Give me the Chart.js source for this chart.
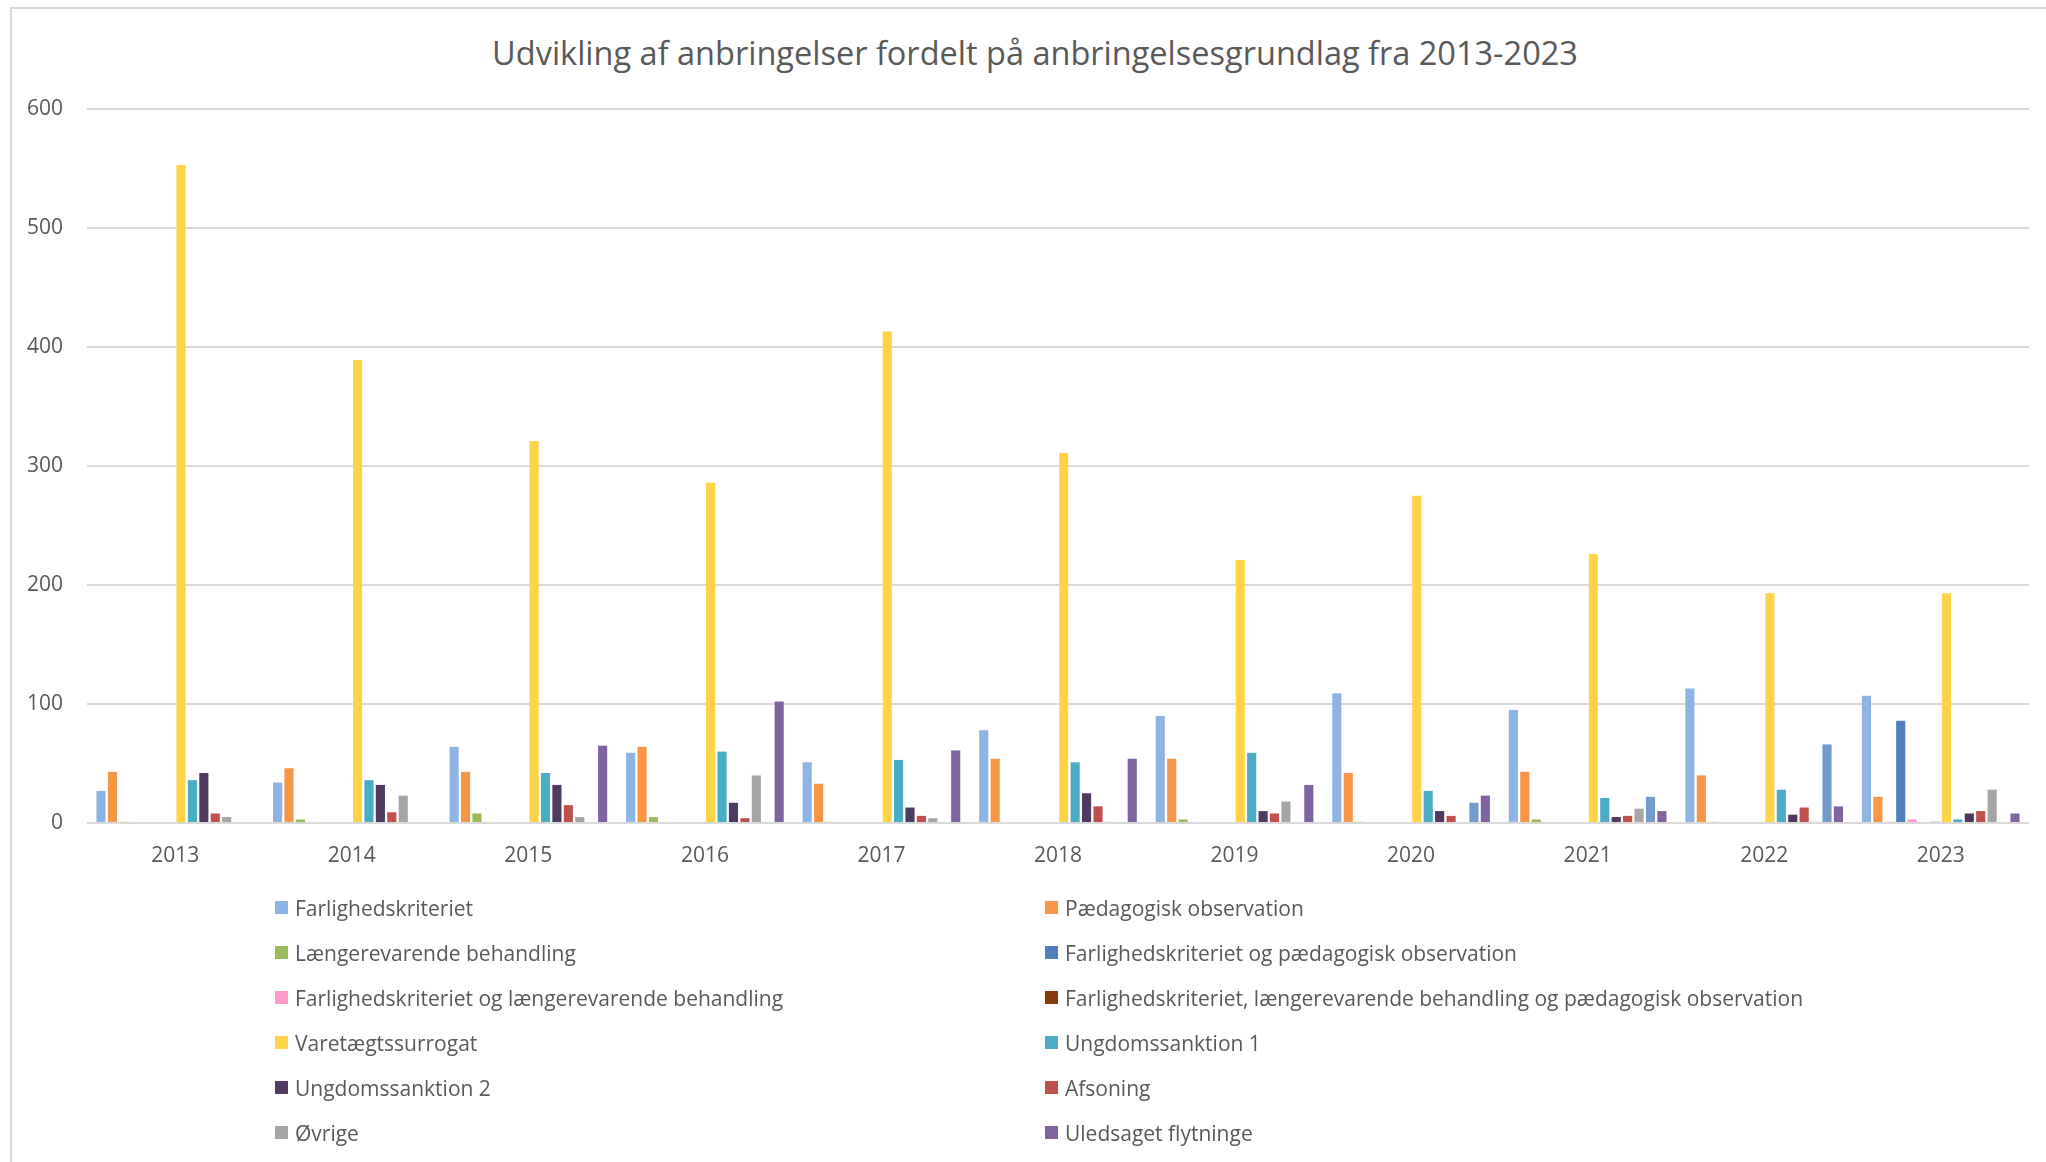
<!DOCTYPE html>
<html lang="da">
<head>
<meta charset="utf-8">
<title>Udvikling af anbringelser</title>
<script src="https://cdn.jsdelivr.net/npm/chart.js@4.4.1/dist/chart.umd.min.js"></script>
<style>
  html, body { margin:0; padding:0; background:#fff; }
  body { width:2046px; height:1162px; position:relative; overflow:hidden; font-family:'Open Sans', sans-serif; }
  #frame { position:absolute; left:10px; top:7px; right:0; bottom:0; border-left:2px solid #D9D9D9; border-top:2px solid #D9D9D9; }
  #title {
    position:absolute; left:35px; width:2000px; top:32px; line-height:42px;
    text-align:center; font-size:32.5px; color:#595959; white-space:nowrap;
  }
  #wrap { position:absolute; left:0; top:0; width:2046px; height:890px; }
  #legend {
    position:absolute; left:275px; top:885px;
    display:grid; grid-template-columns:770px 770px; grid-auto-rows:45px;
    font-size:21px; color:#595959;
  }
  .lg-item { display:flex; align-items:center; white-space:nowrap; }
  .lg-box  { width:13px; height:13px; margin-right:7px; flex:none; }
</style>
</head>
<body>
<div id="frame"></div>
<div id="title">Udvikling af anbringelser fordelt på anbringelsesgrundlag fra 2013-2023</div>
<div id="wrap"><canvas id="chart"></canvas></div>
<div id="legend"></div>

<script>
// ─── Data ─────────────────────────────────────────────────────
const years = ['2013','2014','2015','2016','2017','2018','2019','2020','2021','2022','2023'];

const farlighed         = [27, 34, 64, 59, 51, 78, 90, 109, 95, 113, 107];
const paedagogisk       = [43, 46, 43, 64, 33, 54, 54, 42, 43, 40, 22];
const laengere          = [1, 3, 8, 5, 1, null, 3, 1, 3, 1, 1];
const farlPaed          = [null, null, null, null, null, null, null, null, null, null, 86];
const farlLaengere      = [null, null, null, null, null, null, null, null, null, null, 3];
const uden1             = [null, null, null, null, null, null, null, null, null, null, null];
const farlLaengerePaed  = [null, null, null, null, null, null, null, null, null, null, 1];
const varetaegt         = [553, 389, 321, 286, 413, 311, 221, 275, 226, 193, 193];
const ungdom1           = [36, 36, 42, 60, 53, 51, 59, 27, 21, 28, 3];
const ungdom2           = [42, 32, 32, 17, 13, 25, 10, 10, 5, 7, 8];
const afsoning          = [8, 9, 15, 4, 6, 14, 8, 6, 6, 13, 10];
const oevrige           = [5, 23, 5, 40, 4, 1, 18, null, 12, 1, 28];
const uden2             = [null, null, null, null, null, null, null, 17, 22, 66, null];
const uledsaget         = [null, null, 65, 102, 61, 54, 32, 23, 10, 14, 8];

const yTicks = [0, 100, 200, 300, 400, 500, 600];

// ─── Series (order = bar order in each group) ─────────────────
// label '' = series without a legend entry
const series = [
  { label:'Farlighedskriteriet',                                                   data:farlighed,        color:'#8EB4E3' },
  { label:'Pædagogisk observation',                                                data:paedagogisk,      color:'#F79646' },
  { label:'Længerevarende behandling',                                             data:laengere,         color:'#9BBB59' },
  { label:'Farlighedskriteriet og pædagogisk observation',                         data:farlPaed,         color:'#4F81BD' },
  { label:'Farlighedskriteriet og længerevarende behandling',                      data:farlLaengere,     color:'#FF99CC' },
  { label:'',                                                                      data:uden1,            color:'#B7DEE8' },
  { label:'Farlighedskriteriet, længerevarende behandling og pædagogisk observation', data:farlLaengerePaed, color:'#843C0C' },
  { label:'Varetægtssurrogat',                                                     data:varetaegt,        color:'#FFD347' },
  { label:'Ungdomssanktion 1',                                                     data:ungdom1,          color:'#4BACC6' },
  { label:'Ungdomssanktion 2',                                                     data:ungdom2,          color:'#4F3B62' },
  { label:'Afsoning',                                                              data:afsoning,         color:'#C0504D' },
  { label:'Øvrige',                                                                data:oevrige,          color:'#A5A5A5' },
  { label:'',                                                                      data:uden2,            color:'#729ACA' },
  { label:'Uledsaget flytninge',                                                   data:uledsaget,        color:'#8064A2' },
];

const TXT  = '#595959';
const GRID = '#D9D9D9';
Chart.defaults.font.family = "'Open Sans', sans-serif";

const chart = new Chart(document.getElementById('chart'), {
  type: 'bar',
  data: {
    labels: years,
    datasets: series.map(s => ({
      label: s.label,
      data: s.data,
      backgroundColor: s.color,
      borderWidth: 0,
      categoryPercentage: 0.906,
      barPercentage: 0.8,
    })),
  },
  options: {
    responsive: true,
    maintainAspectRatio: false,
    animation: false,
    layout: { padding: { left: 0, right: 17, top: 109, bottom: 0 } },
    plugins: {
      legend: { display: false },
      tooltip: { enabled: false },
      title: { display: false },
    },
    scales: {
      x: {
        grid: { display: false, drawTicks: false },
        border: { display: false },
        ticks: { color: TXT, font: { size: 21 }, padding: 20, maxRotation: 0 },
        afterFit: s => { s.height = 67; },
      },
      y: {
        min: 0, max: 600,
        afterBuildTicks: s => { s.ticks = yTicks.map(v => ({ value: v })); },
        grid: { color: GRID, lineWidth: 2, drawTicks: false },
        border: { display: false },
        ticks: { color: TXT, font: { size: 21 }, padding: 24 },
        afterFit: s => { s.width = 87; },
      },
    },
  },
});

// ── HTML legend, two columns, rows left → right ───────────────
const legendEl = document.getElementById('legend');
legendEl.innerHTML = chart.data.datasets
  .filter(d => d.label !== '')
  .map(d => `<div class="lg-item"><span class="lg-box" style="background:${d.backgroundColor}"></span>${d.label}</div>`)
  .join('');
</script>
</body>
</html>
